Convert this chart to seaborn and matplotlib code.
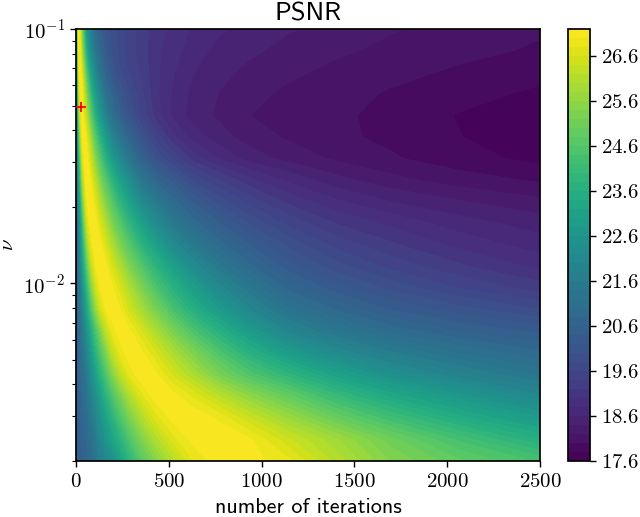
import numpy as np
import matplotlib
matplotlib.use("Agg")
import matplotlib.pyplot as plt
from matplotlib.ticker import NullFormatter
import seaborn as sns

# values
iterations = [0, 7, 15, 23, 34, 50, 61, 74, 90, 109, 132, 161, 195, 239, 290, 353, 430, 522, 635, 773, 940, 1143, 1390, 1690, 2055, 2500]
nu = [0.1, 0.0822, 0.0676, 0.0556, 0.0457, 0.0376, 0.0309, 0.0254, 0.0209, 0.0172, 0.0141,
      0.0116, 0.00955, 0.00785, 0.00646, 0.00531, 0.00437, 0.00359, 0.00295, 0.00243, 0.002]

r00 = [20.3, 24.8, 27.15, 26.4, 25.0, 23.2, 22.4, 21.8, 21.3, 20.8, 20.4, 20.15, 19.9, 19.7, 19.5, 19.3, 19.1, 18.95, 18.76, 18.63, 18.52, 18.42, 18.32, 18.22, 18.12, 18.03]
r01 = [20.3, 24.0, 27.0, 26.9, 25.6, 24.0, 23.1, 22.4, 21.8, 21.2, 20.7, 20.3, 19.95, 19.7, 19.48, 19.3, 19.05, 18.88, 18.68, 18.54, 18.44, 18.33, 18.24, 18.15, 18.06, 17.97]
r02 = [20.3, 23.3, 26.5, 27.18, 26.5, 25.0, 24.2, 23.3, 22.5, 21.8, 21.2, 20.6, 20.15, 19.8, 19.55, 19.35, 19.05, 18.82, 18.6, 18.46, 18.34, 18.24, 18.15, 18.06, 17.97, 17.87]
r03 = [20.3, 22.7, 25.7, 27.0, 27.05, 25.9, 25.1, 24.3, 23.4, 22.6, 21.9, 21.2, 20.6, 20.15, 19.8, 19.45, 19.05, 18.77, 18.53, 18.39, 18.25, 18.16, 18.07, 17.98, 17.87, 17.76]
r04 = [20.3, 22.2, 24.8, 26.5, 27.18, 26.5, 25.9, 25.1, 24.3, 23.4, 22.6, 21.8, 21.1, 20.5, 20.0, 19.55, 19.1, 18.75, 18.5, 18.36, 18.2, 18.13, 18.05, 17.93, 17.79, 17.65]
r05 = [20.3, 21.8, 24.0, 25.7, 27.0, 27.05, 26.6, 26.0, 25.2, 24.4, 23.6, 22.7, 21.9, 21.2, 20.6, 20.05, 19.5, 19.05, 18.7, 18.48, 18.3, 18.17, 18.05, 17.95, 17.81, 17.65]
r06 = [20.3, 21.4, 23.3, 24.8, 26.5, 27.18, 27.05, 26.6, 26.0, 25.2, 24.5, 23.6, 22.8, 22.0, 21.3, 20.6, 19.98, 19.55, 19.1, 18.78, 18.5, 18.33, 18.17, 18.03, 17.88, 17.74]
r07 = [20.3, 21.2, 22.7, 24.0, 25.7, 27.0, 27.18, 27.05, 26.6, 26.0, 25.3, 24.6, 23.8, 23.0, 22.2, 21.4, 20.7, 20.3, 19.75, 19.4, 19.05, 18.75, 18.48, 18.27, 18.1, 17.97]
r08 = [20.3, 21.0, 22.2, 23.3, 24.8, 26.5, 27.0, 27.18, 27.05, 26.6, 26.0, 25.3, 24.6, 23.8, 23.0, 22.2, 21.5, 20.9, 20.35, 19.9, 19.5, 19.15, 18.85, 18.6, 18.42, 18.25]
r09 = [20.3, 20.9, 21.8, 22.7, 24.0, 25.7, 26.5, 27.0, 27.18, 27.05, 26.6, 26.0, 25.3, 24.6, 23.8, 23.0, 22.2, 21.5, 20.9, 20.4, 19.95, 19.55, 19.2, 18.95, 18.7, 18.5]
r10 = [20.3, 20.75, 21.4, 22.2, 23.3, 24.8, 25.7, 26.5, 27.0, 27.18, 27.05, 26.6, 26.0, 25.3, 24.6, 23.8, 23.0, 22.2, 21.5, 20.9, 20.4, 19.95, 19.55, 19.25, 18.95, 18.7]
r11 = [20.3, 20.65, 21.2, 21.8, 22.7, 24.0, 24.8, 25.7, 26.5, 27.0, 27.18, 27.05, 26.6, 26.0, 25.3, 24.6, 23.8, 23.0, 22.2, 21.45, 20.85, 20.3, 19.9, 19.55, 19.25, 18.95]
r12 = [20.3, 20.6, 21.0, 21.4, 22.2, 23.3, 24.0, 24.8, 25.7, 26.5, 27.0, 27.18, 27.05, 26.6, 26.0, 25.3, 24.5, 23.7, 22.9, 22.1, 21.4, 20.75, 20.3, 19.95, 19.6, 19.3]
r13 = [20.3, 20.55, 20.9, 21.2, 21.8, 22.7, 23.3, 24.0, 24.8, 25.7, 26.5, 27.0, 27.18, 27.0, 26.5, 25.9, 25.2, 24.4, 23.6, 22.8, 22.0, 21.25, 20.8, 20.4, 20.1, 19.8]
r14 = [20.3, 20.5, 20.75, 21.0, 21.4, 22.0, 22.5, 23.1, 23.8, 24.5, 25.3, 26.2, 26.85, 27.18, 27.05, 26.6, 26.0, 25.25, 24.45, 23.65, 22.8, 21.95, 21.4, 20.95, 20.6, 20.35]
r15 = [20.3, 20.47, 20.65, 20.9, 21.2, 21.6, 22.0, 22.5, 23.1, 23.8, 24.5, 25.3, 26.2, 26.85, 27.18, 27.05, 26.6, 26.0, 25.3, 24.5, 23.65, 22.85, 22.2, 21.65, 21.2, 20.85]
r16 = [20.3, 20.45, 20.6, 20.75, 21.0, 21.3, 21.65, 22.0, 22.45, 23.05, 23.75, 24.5, 25.35, 26.2, 26.85, 27.18, 27.05, 26.55, 25.95, 25.2, 24.5, 23.85, 23.1, 22.4, 21.85, 21.35]
r17 = [20.3, 20.42, 20.55, 20.65, 20.85, 21.05, 21.3, 21.6, 22.0, 22.45, 23.0, 23.7, 24.4, 25.2, 26.0, 26.7, 27.12, 27.1, 26.75, 26.2, 25.55, 24.9, 24.1, 23.35, 22.7, 22.05]
r18 = [20.3, 20.4, 20.5, 20.58, 20.7, 20.9, 21.05, 21.3, 21.6, 22.0, 22.5, 23.05, 23.7, 24.45, 25.25, 26.0, 26.7, 27.08, 27.18, 26.95, 26.4, 25.75, 25.0, 24.25, 23.5, 22.8]
r19 = [20.3, 20.38, 20.46, 20.53, 20.62, 20.75, 20.88, 21.05, 21.3, 21.6, 22.05, 22.55, 23.1, 23.75, 24.5, 25.3, 26.05, 26.7, 27.1, 27.18, 27.02, 26.45, 25.85, 25.1, 24.35, 23.6]
r20 = [20.3, 20.36, 20.43, 20.48, 20.55, 20.65, 20.75, 20.9, 21.1, 21.35, 21.7, 21.95, 22.35, 23.0, 23.8, 24.65, 25.4, 26.1, 26.8, 27.15, 27.1, 26.85, 26.15, 25.4, 24.85, 24.35]

best_iter = [25]
best_nu = [0.0493]

x_ticks = [0, 500, 1000, 1500, 2000, 2500]
cbar_ticks = [17.6, 18.6, 19.6, 20.6, 21.6, 22.6, 23.6, 24.6, 25.6, 26.6]

#–----------------------------------------------------------------------------

sns.set_theme(style="ticks")
plt.rcParams['font.family'] = ['cmss10', 'DejaVu Sans']
plt.rcParams['mathtext.fontset'] = 'cm'
plt.rcParams['mathtext.default'] = 'rm'
plt.rcParams['axes.unicode_minus'] = False
plt.rcParams['axes.edgecolor'] = 'black'
plt.rcParams['xtick.color'] = 'black'
plt.rcParams['ytick.color'] = 'black'
plt.rcParams['text.color'] = 'black'
plt.rcParams['axes.labelcolor'] = 'black'

psnr = np.array([r00, r01, r02, r03, r04, r05, r06, r07, r08, r09, r10,
                 r11, r12, r13, r14, r15, r16, r17, r18, r19, r20])

fig = plt.figure(figsize=(6.4, 5.17), dpi=100)
ax = fig.add_axes([76/640, 1-461/517, 464/640, 432/517])
cax = fig.add_axes([568/640, 1-461/517, 22/640, 432/517])

cmap = sns.color_palette('viridis', as_cmap=True)
levels = np.arange(17.6, 27.21, 0.2)
cs = ax.contourf(iterations, nu, psnr, levels=levels, cmap=cmap)
sns.scatterplot(x=best_iter, y=best_nu, marker='+', color='red', s=45, linewidth=1.3, ax=ax, zorder=5)

ax.set_yscale('log')
ax.set_xlim(0, 2500)
ax.set_ylim(0.002, 0.1)
ax.set_xticks(x_ticks)
ax.set_xticklabels(['$%d$' % v for v in x_ticks])
ax.set_yticks([0.01, 0.1])
ax.set_yticklabels(['$10^{-2}$', '$10^{-1}$'])
ax.yaxis.set_minor_formatter(NullFormatter())
ax.tick_params(axis='both', which='major', labelsize=15, length=4.3, width=1, direction='out', pad=3.5)
ax.tick_params(axis='y', which='minor', length=2.6, width=0.8)
ax.set_title("PSNR", fontsize=19, pad=6)
ax.set_xlabel("number of iterations", fontsize=15.9)
ax.xaxis.label.set_va('baseline')
ax.xaxis.set_label_coords(0.5, (461-513)/432)
ax.set_ylabel(r"$\nu$", fontsize=15)
ax.yaxis.set_label_coords((17-76)/464, 0.5)

cbar = fig.colorbar(cs, cax=cax)
cbar.set_ticks(cbar_ticks)
cbar.set_ticklabels(['$%.1f$' % v for v in cbar_ticks])
cbar.ax.tick_params(labelsize=15, length=4.3, width=1, pad=3.5)
cbar.ax.minorticks_off()

fig.savefig("out.png", dpi=100)
